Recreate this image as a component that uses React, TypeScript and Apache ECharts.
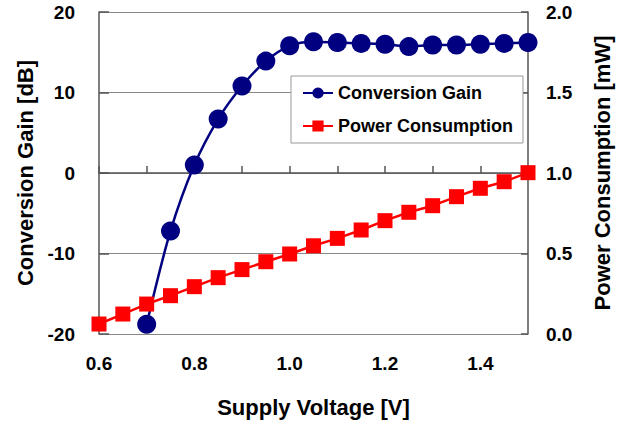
import React, { useEffect, useRef } from "react";
import * as echarts from "echarts";

const voltage = [0.6, 0.65, 0.7, 0.75, 0.8, 0.85, 0.9, 0.95, 1.0, 1.05, 1.1, 1.15, 1.2, 1.25, 1.3, 1.35, 1.4, 1.45, 1.5];
const gainVoltage = [0.7, 0.75, 0.8, 0.85, 0.9, 0.95, 1.0, 1.05, 1.1, 1.15, 1.2, 1.25, 1.3, 1.35, 1.4, 1.45, 1.5];
const conversionGain = [-18.8, -7.2, 1.0, 6.7, 10.8, 13.9, 15.8, 16.3, 16.2, 16.1, 16.0, 15.7, 15.9, 15.9, 16.0, 16.1, 16.2];
const powerConsumption = [0.062, 0.124, 0.186, 0.238, 0.294, 0.35, 0.4, 0.449, 0.497, 0.548, 0.594, 0.646, 0.704, 0.756, 0.797, 0.853, 0.905, 0.946, 1.002];

const FONT = "'Liberation Sans', Arial, sans-serif";

export default function App() {
  const ref = useRef<HTMLDivElement>(null);
  useEffect(() => {
    if (!ref.current) return;
    const chart = echarts.init(ref.current, undefined, { renderer: "svg" });
    const axisColor = "#555";
    chart.setOption({
      animation: false,
      backgroundColor: "#fff",
      textStyle: { fontFamily: FONT },
      grid: { left: 99, right: 96, top: 12, bottom: 89, containLabel: false, outerBoundsMode: "none" },
      legend: {
        left: 291,
        top: 76,
        orient: "vertical",
        padding: [8, 10, 8, 11],
        itemGap: 15,
        itemWidth: 30,
        itemHeight: 14,
        borderColor: "#999",
        borderWidth: 1,
        backgroundColor: "#fff",
        textStyle: { fontFamily: FONT, fontWeight: "bold", fontSize: 18, color: "#000", lineHeight: 18 },
        data: ["Conversion Gain", "Power Consumption"],
      },
      xAxis: {
        type: "value",
        min: 0.6,
        max: 1.5,
        interval: 0.1,
        name: "Supply Voltage [V]",
        nameLocation: "middle",
        nameGap: 62,
        nameTextStyle: { fontFamily: FONT, fontWeight: "bold", fontSize: 22, color: "#000" },
        axisLine: { lineStyle: { color: axisColor, width: 1.5 } },
        axisTick: { inside: true, length: 7, lineStyle: { color: axisColor, width: 1.5 } },
        splitLine: { show: false },
        axisLabel: {
          margin: 20,
          fontFamily: FONT,
          fontWeight: "bold",
          fontSize: 19,
          color: "#000",
          formatter: (v: number) => (Math.round(v * 10) % 2 === 0 ? v.toFixed(1) : ""),
        },
      },
      yAxis: [
        {
          type: "value",
          min: -20,
          max: 20,
          interval: 10,
          name: "Conversion Gain [dB]",
          nameLocation: "middle",
          nameRotate: 90,
          nameGap: 63,
          nameTextStyle: { fontFamily: FONT, fontWeight: "bold", fontSize: 22, color: "#000" },
          axisLine: { show: true, lineStyle: { color: axisColor, width: 1.5 } },
          axisTick: { show: true, inside: true, length: 10, lineStyle: { color: axisColor, width: 1.5 } },
          splitLine: { show: true, lineStyle: { color: "#888", width: 1 } },
          axisLabel: { margin: 24, fontFamily: FONT, fontWeight: "bold", fontSize: 19, color: "#000" },
        },
        {
          type: "value",
          min: 0,
          max: 2,
          interval: 0.5,
          position: "right",
          name: "Power Consumption [mW]",
          nameLocation: "middle",
          nameRotate: 90,
          nameGap: 63,
          nameTextStyle: { fontFamily: FONT, fontWeight: "bold", fontSize: 22, color: "#000" },
          axisLine: { show: true, lineStyle: { color: axisColor, width: 1.5 } },
          axisTick: { show: true, inside: true, length: 7, lineStyle: { color: axisColor, width: 1.5 } },
          splitLine: { show: false },
          axisLabel: {
            margin: 18,
            fontFamily: FONT,
            fontWeight: "bold",
            fontSize: 19,
            color: "#000",
            formatter: (v: number) => v.toFixed(1),
          },
        },
      ],
      series: [
        {
          name: "Power Consumption",
          type: "line",
          yAxisIndex: 1,
          data: voltage.map((x, i) => [x, powerConsumption[i]]),
          symbol: "rect",
          symbolSize: 15,
          lineStyle: { color: "#ff0000", width: 2.5 },
          itemStyle: { color: "#ff0000" },
          clip: false,
        },
        {
          name: "Conversion Gain",
          type: "line",
          yAxisIndex: 0,
          smooth: 0.3,
          data: gainVoltage.map((x, i) => [x, conversionGain[i]]),
          symbol: "circle",
          symbolSize: 19,
          lineStyle: { color: "#000080", width: 2.5 },
          itemStyle: { color: "#000080" },
          clip: false,
        },
      ],
    });
    return () => chart.dispose();
  }, []);
  return <div ref={ref} style={{ position: "fixed", left: 0, top: 0, width: 624, height: 423 }} />;
}
